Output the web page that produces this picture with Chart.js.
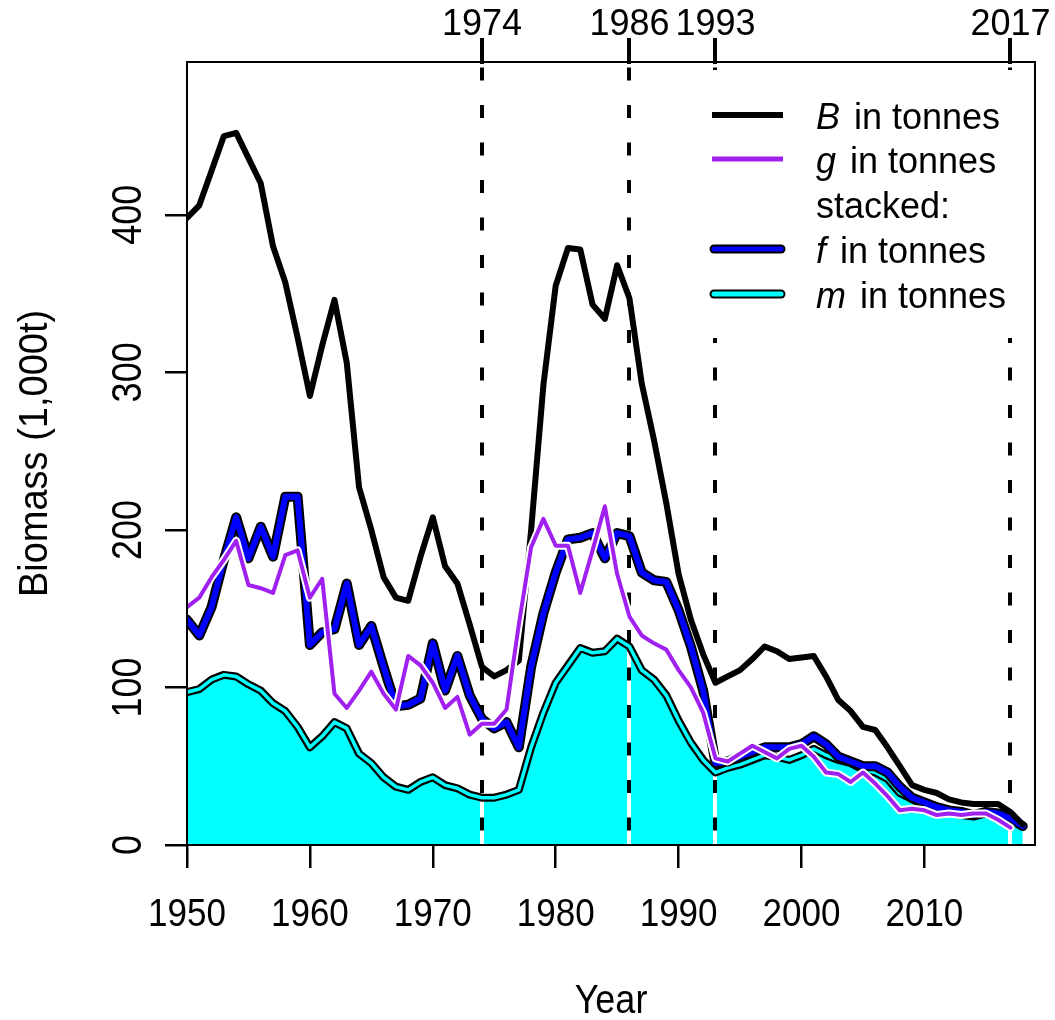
<!DOCTYPE html>
<html>
<head>
<meta charset="utf-8">
<script src="https://cdn.jsdelivr.net/npm/chart.js@4.4.1/dist/chart.umd.min.js"></script>
<style>
  html, body { margin: 0; padding: 0; background: #ffffff; }
  #wrap { width: 1055px; height: 1020px; }
</style>
</head>
<body>
<div id="wrap"><canvas id="c" width="1055" height="1020"></canvas></div>
<script>
// ---------------- data ----------------
const years = [1950,1951,1952,1953,1954,1955,1956,1957,1958,1959,
  1960,1961,1962,1963,1964,1965,1966,1967,1968,1969,
  1970,1971,1972,1973,1974,1975,1976,1977,1978,1979,
  1980,1981,1982,1983,1984,1985,1986,1987,1988,1989,
  1990,1991,1992,1993,1994,1995,1996,1997,1998,1999,
  2000,2001,2002,2003,2004,2005,2006,2007,2008,2009,
  2010,2011,2012,2013,2014,2015,2016,2017,2018];

// total biomass B (1,000 t)
const B = [398,406,428,450,452,436,420,380,357,322,
  285,317,346,306,227,200,170,157,155,183,
  208,177,166,140,113,107,111,117,200,292,
  355,379,378,343,334,368,347,293,257,217,
  172,143,121,103,107,111,118,126,123,118,
  119,120,107,92,85,75,73,62,50,38,
  35,33,29,27,26,26,26,21,13];

// g (1950-2017)
const gYears = years.slice(0, 68);
const g = [151,157,170,181,193,165,163,160,184,187,
  157,169,96,87,98,110,96,86,120,114,
  103,87,94,70,77,77,86,140,189,207,
  190,190,160,187,215,172,145,133,128,124,
  111,100,84,55,53,58,63,59,55,61,
  63,56,46,45,40,46,39,31,22,23,
  22,19,20,19,20,20,16,11];

// m (bottom of stack)
const m = [97,99,105,108,107,102,98,90,85,75,
  62,69,78,74,58,52,43,37,35,40,
  43,38,36,32,30,30,32,35,62,84,
  103,114,125,122,123,131,126,111,105,95,
  79,65,54,46,49,51,54,57,56,54,
  57,61,57,54,52,48,46,42,33,29,
  25,23,21,19,18,20,19,16,12];

// f (stacked on top of m)
const f = [46,34,46,73,101,80,104,93,136,146,
  65,66,59,92,69,87,70,51,54,53,
  85,60,84,63,50,44,46,27,51,63,
  70,80,70,76,59,67,70,62,63,72,
  70,61,44,6,4,5,5,5,6,8,
  7,8,7,2,1,2,4,4,4,1,
  2,1,1,2,1,1,1,1,0];

const xTicks = [1950,1960,1970,1980,1990,2000,2010];
const yTicks = [0,100,200,300,400];
const markYears = [1974,1986,1993,2017];
const legendLetters = ['B','g','f','m'];
const legendRest = 'in tonnes';
const stackedLabel = 'stacked:';
const xTitle = 'Year';
const yTitle = 'Biomass (1,000t)';

// ---------------- build ----------------
const pts = (xs, ys) => xs.map((x, i) => ({x: x, y: ys[i]}));
const fTop = m.map((v, i) => v + f[i]);

const FONT = '"Liberation Sans", Arial, sans-serif';
const CYAN = '#00FFFF', BLUE = '#0000FF', PURPLE = '#A020F0';

function lineDs(data, color, width, order, extra) {
  return Object.assign({
    data: data, borderColor: color, borderWidth: width, backgroundColor: 'transparent',
    pointRadius: 0, pointHoverRadius: 0, tension: 0, fill: false,
    borderJoinStyle: 'round', borderCapStyle: 'round', order: order
  }, extra || {});
}

const datasets = [
  lineDs(pts(years, m), 'rgba(0,0,0,0)', 0, 8, {fill: 'origin', backgroundColor: CYAN}),
  lineDs(pts(years, m), '#000000', 8, 7),
  lineDs(pts(years, m), CYAN, 3.5, 6),
  lineDs(pts(years, fTop), '#000000', 10, 5),
  lineDs(pts(years, fTop), BLUE, 6, 4),
  lineDs(pts(years, B), '#000000', 6, 3),
  lineDs(pts(gYears, g), '#FFFFFF', 8, 2),
  lineDs(pts(gYears, g), PURPLE, 4, 1)
];

function txt(ctx, str, x, y, size, align, rot, sy, style) {
  ctx.save();
  ctx.translate(x, y);
  if (rot) ctx.rotate(-Math.PI / 2);
  ctx.scale(1, sy || 1);
  ctx.font = (style ? style + ' ' : '') + size + 'px ' + FONT;
  ctx.textAlign = align;
  ctx.textBaseline = 'alphabetic';
  ctx.fillStyle = '#000';
  ctx.fillText(str, 0, 0);
  ctx.restore();
}

const decor = {
  id: 'decor',
  beforeDatasetsDraw(chart) {
    const ctx = chart.ctx, a = chart.chartArea, xs = chart.scales.x;
    ctx.save();
    ctx.beginPath(); ctx.rect(a.left, a.top, a.right - a.left, a.bottom - a.top); ctx.clip();
    markYears.forEach(yr => {
      const px = Math.round(xs.getPixelForValue(yr));
      ctx.setLineDash([]);
      ctx.strokeStyle = '#FFFFFF'; ctx.lineWidth = 4; ctx.lineCap = 'butt';
      ctx.beginPath(); ctx.moveTo(px, a.top); ctx.lineTo(px, a.bottom); ctx.stroke();
      ctx.setLineDash([13, 24.5]); ctx.lineDashOffset = 32;
      ctx.strokeStyle = '#000000'; ctx.lineWidth = 4;
      ctx.beginPath(); ctx.moveTo(px, a.top); ctx.lineTo(px, a.bottom); ctx.stroke();
    });
    ctx.restore();
  },
  afterDraw(chart) {
    const ctx = chart.ctx, a = chart.chartArea;
    const xs = chart.scales.x, ys = chart.scales.y;
    // legend
    ctx.save();
    ctx.fillStyle = '#FFFFFF';
    ctx.fillRect(700, 70, 330, 268);
    const lx1 = 712, lx2 = 783, tx = 816;
    const base = [129, 173, 218, 263, 308];
    ctx.lineCap = 'butt';
    ctx.strokeStyle = '#000'; ctx.lineWidth = 6;
    ctx.beginPath(); ctx.moveTo(lx1, base[0] - 14); ctx.lineTo(lx2, base[0] - 14); ctx.stroke();
    ctx.strokeStyle = PURPLE; ctx.lineWidth = 5;
    ctx.beginPath(); ctx.moveTo(lx1, base[1] - 14); ctx.lineTo(lx2, base[1] - 14); ctx.stroke();
    ctx.lineCap = 'round';
    [[3, BLUE], [4, CYAN]].forEach(([r, col]) => {
      ctx.strokeStyle = '#000'; ctx.lineWidth = 9;
      ctx.beginPath(); ctx.moveTo(lx1 + 2, base[r] - 14); ctx.lineTo(lx2 - 2, base[r] - 14); ctx.stroke();
      ctx.strokeStyle = col; ctx.lineWidth = 5;
      ctx.beginPath(); ctx.moveTo(lx1 + 2, base[r] - 14); ctx.lineTo(lx2 - 2, base[r] - 14); ctx.stroke();
    });
    const rows = [0, 1, 3, 4];
    legendLetters.forEach((L, i) => {
      const b = base[rows[i]];
      txt(ctx, L, tx, b, 36, 'left', false, 1, 'italic');
      ctx.font = 'italic 36px ' + FONT;
      const w = ctx.measureText(L).width;
      ctx.font = '36px ' + FONT;
      const sp = ctx.measureText(' ').width;
      txt(ctx, legendRest, tx + w + sp + 4, b, 36, 'left', false, 1);
    });
    txt(ctx, stackedLabel, tx, base[2], 36, 'left', false, 1);
    ctx.restore();

    // box
    ctx.save();
    ctx.setLineDash([]);
    ctx.strokeStyle = '#000000'; ctx.lineWidth = 2;
    ctx.strokeRect(a.left, a.top, a.right - a.left, a.bottom - a.top);
    ctx.restore();

    // top ticks (thick), drawn as filled bars
    const x2 = chart.scales.x2;
    ctx.save();
    ctx.fillStyle = '#000000';
    x2.ticks.forEach(t => {
      const px = Math.round(x2.getPixelForValue(t.value));
      ctx.fillRect(px - 2, a.top - 24, 4, 26);
    });
    ctx.restore();

    // tick labels
    xs.ticks.forEach(t => txt(ctx, String(t.value), xs.getPixelForValue(t.value), 926, 35, 'center', false, 1.12));
    ys.ticks.forEach(t => txt(ctx, String(t.value), 141, ys.getPixelForValue(t.value), 36, 'center', true, 1.18));
    x2.ticks.forEach(t => txt(ctx, String(t.value), x2.getPixelForValue(t.value), 35, 36, 'center', false, 1));
    // titles
    txt(ctx, xTitle, (a.left + a.right) / 2, 1013, 36, 'center', false, 1.12);
    txt(ctx, yTitle, 47, (a.top + a.bottom) / 2, 38, 'center', true, 1.08);
  }
};

new Chart(document.getElementById('c'), {
  type: 'line',
  data: { datasets: datasets },
  options: {
    responsive: false,
    animation: false,
    devicePixelRatio: 1,
    layout: { padding: { left: 0, right: 20, top: 0, bottom: 0 } },
    plugins: {
      legend: { display: false },
      tooltip: { enabled: false },
      filler: { drawTime: 'beforeDatasetsDraw' }
    },
    scales: {
      x: {
        type: 'linear', position: 'bottom', min: 1950, max: 2019,
        afterBuildTicks: s => { s.ticks = xTicks.map(v => ({value: v})); },
        afterFit: s => { s.height = 175; },
        ticks: { display: false },
        border: { display: false },
        grid: { drawOnChartArea: false, drawTicks: true, tickLength: 23, color: '#000', lineWidth: 2.5 }
      },
      x2: {
        type: 'linear', position: 'top', min: 1950, max: 2019,
        afterBuildTicks: s => { s.ticks = markYears.map(v => ({value: v})); },
        afterFit: s => { s.height = 62; },
        ticks: { display: false },
        border: { display: false },
        grid: { display: false }
      },
      y: {
        type: 'linear', position: 'left', min: 0, max: 497,
        afterBuildTicks: s => { s.ticks = yTicks.map(v => ({value: v})); },
        afterFit: s => { s.width = 187; },
        ticks: { display: false },
        border: { display: false },
        grid: { drawOnChartArea: false, drawTicks: true, tickLength: 22, color: '#000', lineWidth: 2.5 }
      }
    }
  },
  plugins: [decor]
});
</script>
</body>
</html>
